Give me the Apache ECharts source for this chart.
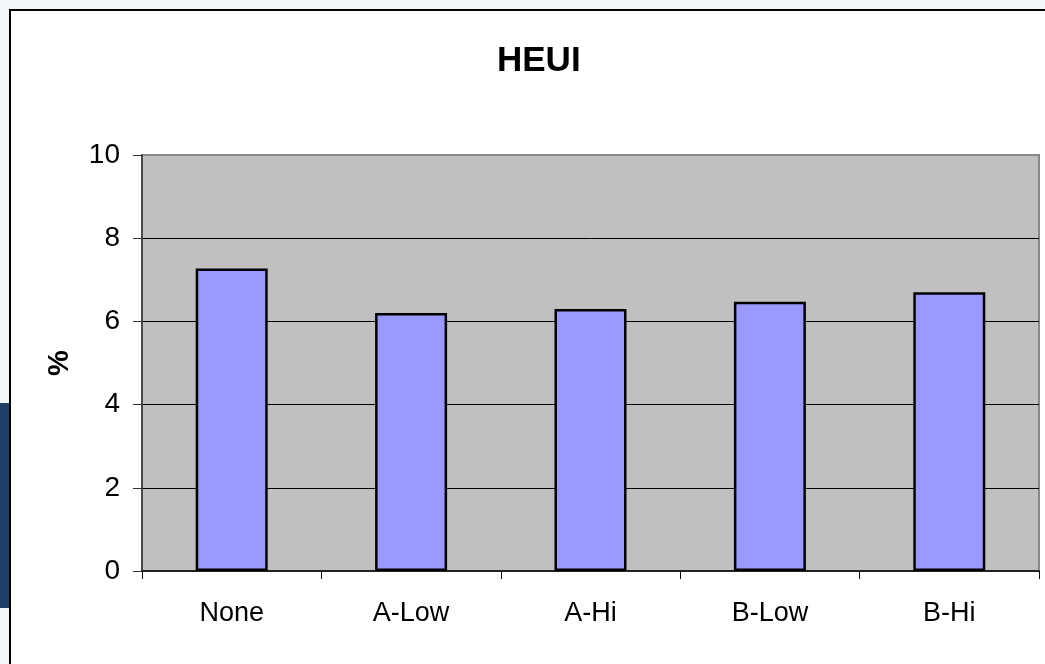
<!DOCTYPE html>
<html>
<head>
<meta charset="utf-8">
<script src="https://cdn.jsdelivr.net/npm/echarts@6/dist/echarts.min.js"></script>
<style>
html,body{margin:0;padding:0;background:#f2f5fa;}
#c{width:1045px;height:664px;}
</style>
</head>
<body>
<div id="c"></div>
<script>
const categories = ['None', 'A-Low', 'A-Hi', 'B-Low', 'B-Hi'];
const values = [7.27, 6.2, 6.3, 6.47, 6.7];
const titleText = 'HEUI';
const yName = '%';
const yMin = 0, yMax = 10, yStep = 2;

const font = '"Liberation Sans", Arial, sans-serif';
const chart = echarts.init(document.getElementById('c'));
chart.setOption({
  backgroundColor: '#f2f5fa',
  animation: false,
  graphic: [
    { type: 'rect', z: -10, shape: { x: 0, y: 403, width: 10, height: 205 }, style: { fill: '#1f3f66' } },
    { type: 'rect', z: -9, shape: { x: 10, y: 10, width: 1100, height: 720 }, style: { fill: '#ffffff', stroke: '#000000', lineWidth: 2 } }
  ],
  title: {
    text: titleText,
    left: 497,
    top: 44,
    padding: 0,
    textStyle: { fontFamily: font, fontSize: 35, fontWeight: 'bold', color: '#000' }
  },
  grid: {
    left: 142, top: 155, right: 6, bottom: 93,
    show: true, backgroundColor: '#c0c0c0', borderColor: '#888888', borderWidth: 2
  },
  xAxis: {
    type: 'category',
    data: categories,
    boundaryGap: true,
    axisLine: { show: true, lineStyle: { color: '#000', width: 1.5 } },
    axisTick: { show: true, length: 8, alignWithLabel: false, lineStyle: { color: '#000' } },
    axisLabel: { fontFamily: font, fontSize: 27, color: '#000', margin: 29 },
    splitLine: { show: false }
  },
  yAxis: {
    type: 'value',
    min: yMin, max: yMax, interval: yStep,
    name: yName,
    nameLocation: 'middle',
    nameRotate: 90,
    nameGap: 68,
    nameTextStyle: { fontFamily: font, fontSize: 29, fontWeight: 'bold', color: '#000' },
    axisLine: { show: true, lineStyle: { color: '#333', width: 1.5 } },
    axisTick: { show: true, length: 9, lineStyle: { color: '#333' } },
    axisLabel: { fontFamily: font, fontSize: 28, color: '#000', margin: 22 },
    splitLine: { show: true, showMinLine: false, showMaxLine: false, lineStyle: { color: '#000', width: 1 } }
  },
  series: [{
    type: 'bar',
    data: values,
    barWidth: 72,
    itemStyle: { color: '#9999ff', borderColor: '#000', borderWidth: 2.5 }
  }]
});
</script>
</body>
</html>
